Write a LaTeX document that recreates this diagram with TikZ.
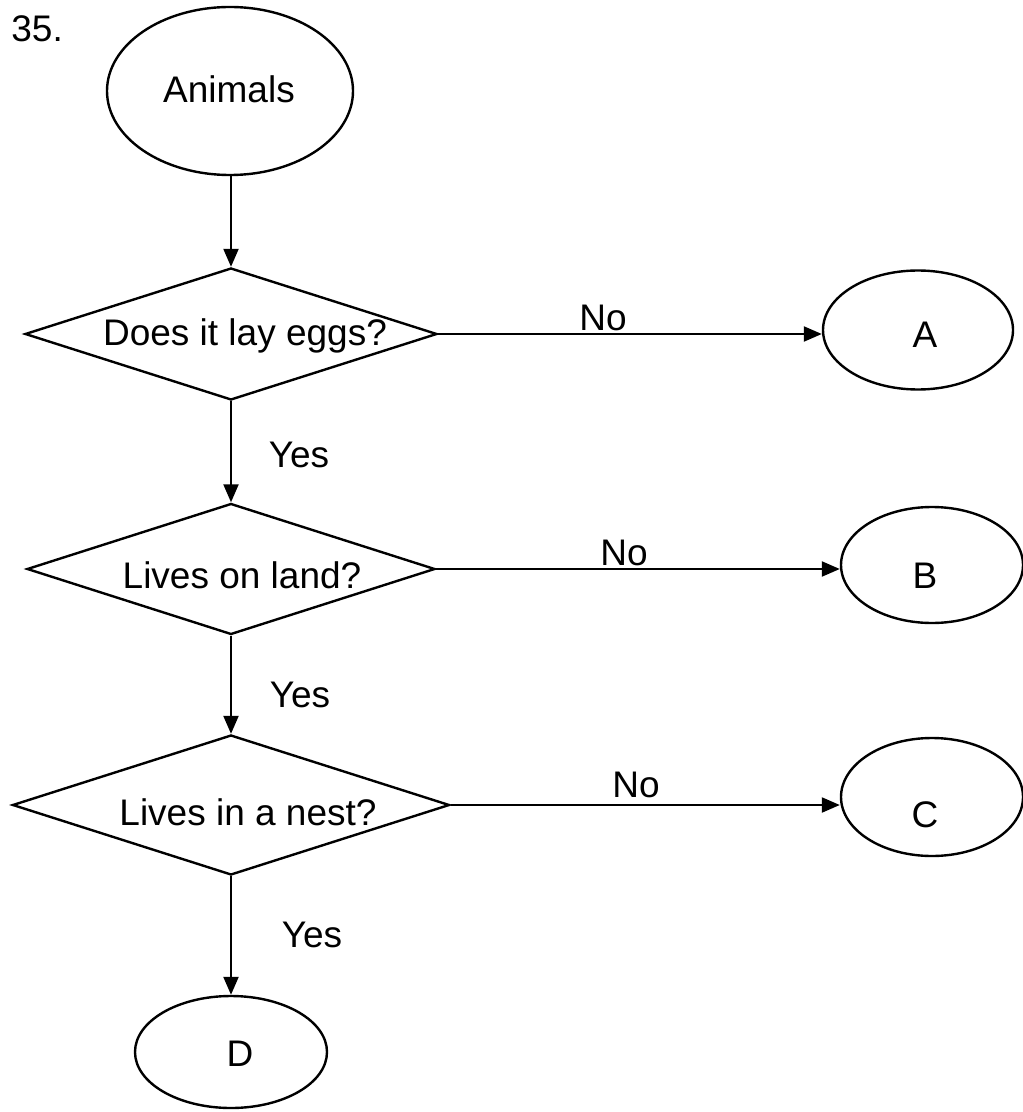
\documentclass[tikz,border=0pt]{standalone}
\usepackage{fontspec}
\setmainfont{Liberation Sans}
\usetikzlibrary{shapes.geometric,arrows.meta}
\begin{document}
\begin{tikzpicture}[x=0.5pt,y=-0.5pt,
  every node/.style={font=\fontsize{18.5}{22}\selectfont},
  ell/.style={ellipse,draw,line width=1.2pt,inner sep=0pt},
  dia/.style={diamond,draw,line width=1.2pt,inner sep=0pt,shape aspect=3},
  arr/.style={line width=1.1pt,-{Triangle[length=9pt,width=7.5pt]}},
  lbl/.style={inner sep=0pt,anchor=base}]
\useasboundingbox (0,0) rectangle (1022,1112);
% title number
\node[lbl,anchor=base west] (num) at (11,42) {35.};
% shapes
\node[ell,minimum width=123pt,minimum height=84pt] (animals) at (230,91) {};
\node[lbl] (tanimals) at (229,103) {Animals};
\node[dia,minimum width=206pt,minimum height=66pt] (d1) at (231,334) {};
\node[lbl] (t1) at (245,345) {Does it lay eggs?};
\node[dia,minimum width=204pt,minimum height=65.5pt] (d2) at (231,569) {};
\node[lbl] (t2) at (242,588) {Lives on land?};
\node[dia,minimum width=218.5pt,minimum height=70pt] (d3) at (231,805) {};
\node[lbl] (t3) at (248,825) {Lives in a nest?};
\node[ell,minimum width=95pt,minimum height=59.5pt] (A) at (918,330) {};
\node[lbl] (tA) at (925,348) {A};
\node[ell,minimum width=91pt,minimum height=58pt] (B) at (932,565) {};
\node[lbl] (tB) at (925,588) {B};
\node[ell,minimum width=91pt,minimum height=59pt] (C) at (932,797) {};
\node[lbl] (tC) at (925,827) {C};
\node[ell,minimum width=96pt,minimum height=56pt] (D) at (231,1052) {};
\node[lbl] (tD) at (240,1066) {D};
% connectors
\draw[arr] (d1.north |- animals.south) -- (d1.north);
\draw[arr] (d1.south) -- (d2.north);
\draw[arr] (d2.south) -- (d3.north);
\draw[arr] (d3.south) -- (D.north);
\draw[arr] (d1.east) -- (d1.east -| A.west);
\draw[arr] (d2.east) -- (d2.east -| B.west);
\draw[arr] (d3.east) -- (d3.east -| C.west);
% edge labels
\node[lbl] (no1) at (603,330) {No};
\node[lbl] (no2) at (624,565) {No};
\node[lbl] (no3) at (636,797) {No};
\node[lbl] (yes1) at (299,467) {Yes};
\node[lbl] (yes2) at (300,707) {Yes};
\node[lbl] (yes3) at (312,947) {Yes};
\end{tikzpicture}
\end{document}
